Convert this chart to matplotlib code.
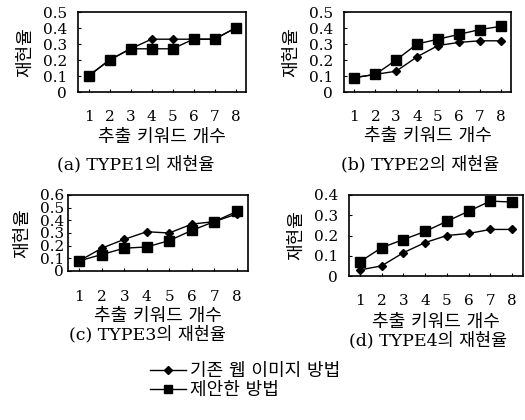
import matplotlib
matplotlib.use("Agg")
import matplotlib.pyplot as plt
from matplotlib.lines import Line2D

plt.rcParams['font.family'] = ['DejaVu Serif', 'Noto Sans CJK KR', 'DejaVu Sans']

# data
keywords = [1, 2, 3, 4, 5, 6, 7, 8]
base_t1 = [0.10, 0.20, 0.27, 0.33, 0.33, 0.33, 0.33, 0.40]
prop_t1 = [0.10, 0.20, 0.27, 0.27, 0.27, 0.33, 0.33, 0.40]
base_t2 = [0.09, 0.11, 0.13, 0.22, 0.29, 0.31, 0.32, 0.32]
prop_t2 = [0.09, 0.11, 0.20, 0.30, 0.33, 0.36, 0.39, 0.41]
base_t3 = [0.08, 0.18, 0.25, 0.31, 0.30, 0.37, 0.39, 0.45]
prop_t3 = [0.08, 0.13, 0.18, 0.19, 0.24, 0.32, 0.39, 0.47]
base_t4 = [0.03, 0.05, 0.115, 0.165, 0.20, 0.21, 0.23, 0.23]
prop_t4 = [0.07, 0.14, 0.18, 0.22, 0.27, 0.32, 0.37, 0.365]

xlabel = '추출 키워드 개수'
ylabel = '재현율'
captions = ['(a) TYPE1의 재현율', '(b) TYPE2의 재현율',
            '(c) TYPE3의 재현율', '(d) TYPE4의 재현율']
legend_labels = ['기존 웹 이미지 방법', '제안한 방법']

W, H = 525, 420
fig = plt.figure(figsize=(W / 100, H / 100), dpi=100)

def px_axes(x0, x1, y0, y1):
    return fig.add_axes([x0 / W, 1 - y1 / H, (x1 - x0) / W, (y1 - y0) / H])

# (box in pixels, ymax, tick pad, xlabel y, caption center x, caption y, data)
panels = [
    ((78, 246, 12, 92), 0.5, 13, 137, 136, 165, base_t1, prop_t1),
    ((344, 511, 12, 92), 0.5, 13, 136, 420, 165, base_t2, prop_t2),
    ((68, 248, 195, 271), 0.6, 14, 316, 147, 335, base_t3, prop_t3),
    ((349, 523, 195, 276), 0.4, 13, 322, 428, 341, base_t4, prop_t4),
]

for i, (box, ymax, xpad, xly, cx, cy, base, prop) in enumerate(panels):
    ax = px_axes(*box)
    ax.plot(keywords, base, color='black', lw=1, marker='D', ms=4.5)
    ax.plot(keywords, prop, color='black', lw=1, marker='s', ms=6.5)
    ax.set_xlim(0.5, 8.5)
    ax.set_ylim(0, ymax)
    nt = int(round(ymax / 0.1))
    ticks = [round(k * 0.1, 1) for k in range(nt + 1)]
    ax.set_yticks(ticks)
    ax.set_yticklabels(['0'] + ['%.1f' % t for t in ticks[1:]])
    ax.set_xticks(keywords)
    ax.tick_params(axis='x', direction='in', length=2, pad=xpad, labelsize=11)
    ax.tick_params(axis='y', direction='in', length=2, pad=8, labelsize=11)
    if i == 2:
        ax.tick_params(axis='y', labelsize=11, pad=3)
    ax.set_ylabel(ylabel, fontsize=13, labelpad=6)
    for s in ax.spines.values():
        s.set_linewidth(1.2)
    xc = (box[0] + box[1]) / 2
    fig.text(xc / W, 1 - xly / H, xlabel, ha='center', va='center', fontsize=13)
    fig.text(cx / W, 1 - cy / H, captions[i], ha='center', va='center', fontsize=12.5)

handles = [Line2D([], [], color='black', lw=1, marker='D', ms=4.5),
           Line2D([], [], color='black', lw=1, marker='s', ms=6)]
fig.legend(handles, legend_labels, loc='upper left', bbox_to_anchor=(150 / W, 1 - 362 / H),
           frameon=False, fontsize=13, handlelength=2.0, handletextpad=0.2,
           labelspacing=0.05, borderpad=0, borderaxespad=0)

fig.savefig('out.png', dpi=100, facecolor='white')
